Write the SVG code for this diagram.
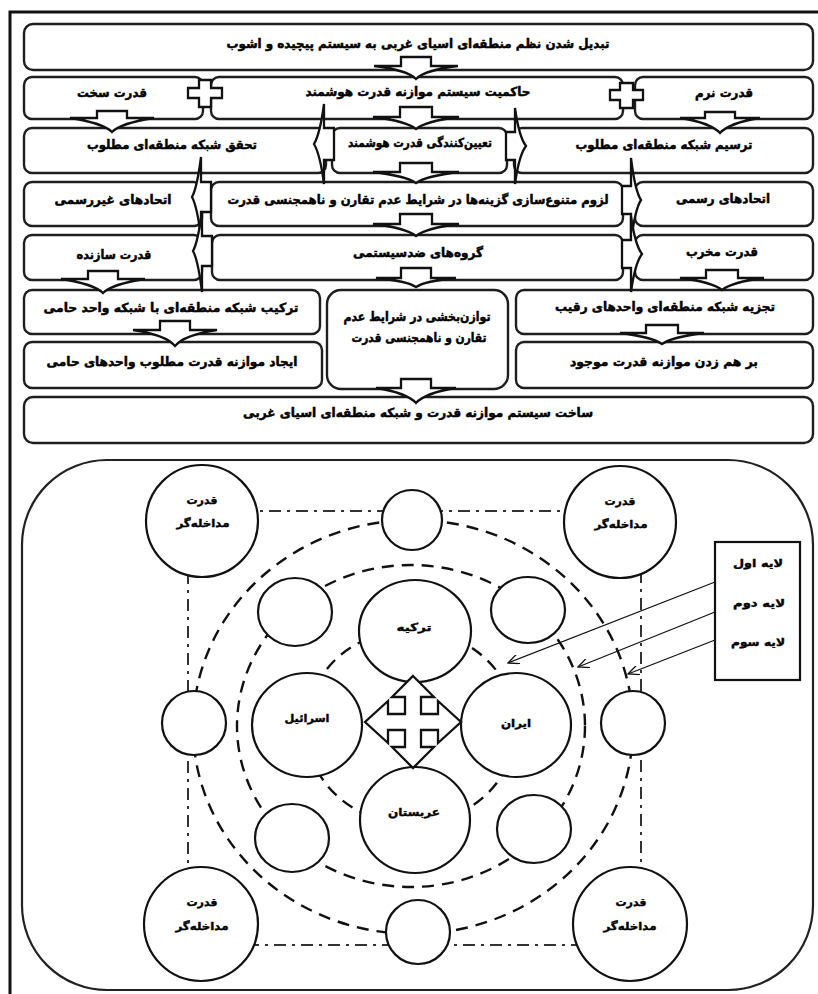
<svg xmlns="http://www.w3.org/2000/svg" width="818" height="994" viewBox="0 0 818 994">
<defs>
<style>
.box{fill:#fff;stroke:#1e1e1e;stroke-width:2.4}
.t{font-family:"DejaVu Sans",sans-serif;font-weight:bold;font-size:12.5px;text-anchor:middle;fill:#000;stroke:#000;stroke-width:0.5px}
.ts{font-family:"DejaVu Sans",sans-serif;font-weight:bold;font-size:11px;text-anchor:middle;fill:#000;stroke:#000;stroke-width:0.4px}
.arr{fill:#fff;stroke:#111;stroke-width:2.3;stroke-linejoin:miter}
.c{fill:#fff;stroke:#111;stroke-width:2.2}
.dash{fill:none;stroke:#111;stroke-width:2.4;stroke-dasharray:12 8}
.dd{fill:none;stroke:#333;stroke-width:2;stroke-dasharray:12 6 3 6}
.ln{fill:none;stroke:#111;stroke-width:1.3}
</style>
<marker id="v" markerWidth="12" markerHeight="10" refX="11" refY="5" orient="auto" markerUnits="userSpaceOnUse"><path d="M0,0 L11,5 L0,10" fill="none" stroke="#111" stroke-width="1.3"/></marker>
</defs>
<rect width="818" height="994" fill="#fff"/>
<path d="M10,994 V12 H818" fill="none" stroke="#111" stroke-width="3"/>

<g id="n1"><rect class="box" x="24" y="24" width="789" height="46" rx="9"/><text class="t" x="418" y="48" textLength="383" lengthAdjust="spacingAndGlyphs">تبدیل شدن نظم منطقه&#8204;ای اسیای غربی به سیستم پیچیده و اشوب</text></g>

<g id="n2a"><rect class="box" x="24" y="77" width="179" height="42" rx="8"/><text class="t" x="112" y="97" textLength="70" lengthAdjust="spacingAndGlyphs">قدرت سخت</text></g>
<g id="n2b"><rect class="box" x="211" y="77" width="412" height="42" rx="8"/><text class="t" x="418" y="96" textLength="225" lengthAdjust="spacingAndGlyphs">حاکمیت سیستم موازنه قدرت هوشمند</text></g>
<g id="n2c"><rect class="box" x="635" y="77" width="178" height="42" rx="8"/><text class="t" x="724" y="97" textLength="58" lengthAdjust="spacingAndGlyphs">قدرت نرم</text></g>

<g id="n3a"><rect class="box" x="24" y="128" width="302" height="45" rx="8"/><text class="t" x="172" y="149" textLength="170" lengthAdjust="spacingAndGlyphs">تحقق شبکه منطقه&#8204;ای مطلوب</text></g>
<g id="n3c"><rect class="box" x="514" y="128" width="299" height="45" rx="8"/><text class="t" x="664" y="149" textLength="177" lengthAdjust="spacingAndGlyphs">ترسیم شبکه منطقه&#8204;ای مطلوب</text></g>
<g id="n3b"><rect class="box" x="332" y="128" width="175" height="45" rx="8"/><text class="t" x="420" y="147" textLength="144" lengthAdjust="spacingAndGlyphs">تعیین&#8204;کنندگی قدرت هوشمند</text></g>

<g id="n4a"><rect class="box" x="24" y="182" width="178" height="44" rx="8"/><text class="t" x="113" y="204" textLength="117" lengthAdjust="spacingAndGlyphs">اتحادهای غیررسمی</text></g>
<g id="n4b"><rect class="box" x="211" y="182" width="412" height="44" rx="8"/><text class="t" x="418" y="204" textLength="381" lengthAdjust="spacingAndGlyphs">لزوم متنوع&#8204;سازی گزینه&#8204;ها در شرایط عدم تقارن و ناهمجنسی قدرت</text></g>
<g id="n4c"><rect class="box" x="635" y="182" width="178" height="44" rx="8"/><text class="t" x="723" y="203" textLength="94" lengthAdjust="spacingAndGlyphs">اتحادهای رسمی</text></g>

<g id="n5a"><rect class="box" x="24" y="235" width="178" height="45" rx="8"/><text class="t" x="114" y="259" textLength="75" lengthAdjust="spacingAndGlyphs">قدرت سازنده</text></g>
<g id="n5b"><rect class="box" x="212" y="235" width="411" height="45" rx="8"/><text class="t" x="418" y="257" textLength="130" lengthAdjust="spacingAndGlyphs">گروه&#8204;های ضدسیستمی</text></g>
<g id="n5c"><rect class="box" x="635" y="235" width="178" height="45" rx="8"/><text class="t" x="722" y="256" textLength="72" lengthAdjust="spacingAndGlyphs">قدرت مخرب</text></g>

<g id="n6a"><rect class="box" x="24" y="290" width="296" height="44" rx="8"/><text class="t" x="171" y="312" textLength="255" lengthAdjust="spacingAndGlyphs">ترکیب شبکه منطقه&#8204;ای با شبکه واحد حامی</text></g>
<g id="n6b"><rect class="box" x="327" y="290" width="181" height="99" rx="14"/><text class="t" x="417" y="321" textLength="147" lengthAdjust="spacingAndGlyphs">توازن&#8204;بخشی در شرایط عدم</text><text class="t" x="419" y="342" textLength="135" lengthAdjust="spacingAndGlyphs">تقارن و ناهمجنسی قدرت</text></g>
<g id="n6c"><rect class="box" x="516" y="290" width="297" height="44" rx="8"/><text class="t" x="665" y="311" textLength="220" lengthAdjust="spacingAndGlyphs">تجزیه شبکه منطقه&#8204;ای واحدهای رقیب</text></g>

<g id="n7a"><rect class="box" x="24" y="342" width="298" height="46" rx="8"/><text class="t" x="172" y="366" textLength="251" lengthAdjust="spacingAndGlyphs">ایجاد موازنه قدرت مطلوب واحدهای حامی</text></g>
<g id="n7c"><rect class="box" x="516" y="342" width="297" height="46" rx="8"/><text class="t" x="664" y="366" textLength="188" lengthAdjust="spacingAndGlyphs">بر هم زدن موازنه قدرت موجود</text></g>

<g id="n8"><rect class="box" x="24" y="397" width="789" height="46" rx="9"/><text class="t" x="418" y="417" textLength="350" lengthAdjust="spacingAndGlyphs">ساخت سیستم موازنه قدرت و شبکه منطقه&#8204;ای اسیای غربی</text></g>

<g id="connectors">
<path class="arr" d="M401,57 H431 V66 H458 Q425,70 416,79 Q407,70 374,66 H401 Z"/>
<path class="arr" d="M97,111 H127 V118 H154 Q121,123 112,132 Q103,123 70,118 H97 Z"/>
<path class="arr" d="M400,107 H432 V117 H459 Q426,121 416,129 Q406,121 373,117 H400 Z"/>
<path class="arr" d="M705,112 H735 V118 H760 Q729,123 720,133 Q711,123 680,118 H705 Z"/>
<path class="arr" d="M400,163 H432 V172 H459 Q426,176 416,183 Q406,176 373,172 H400 Z"/>
<path class="arr" d="M400,214 H432 V224 H459 Q426,228 416,236 Q406,228 373,224 H400 Z"/>
<path class="arr" d="M401,268 H431 V278 H456 Q425,281 416,287 Q407,281 376,278 H401 Z"/>
<path class="arr" d="M401,379 H431 V388 H456 Q425,393 416,403 Q407,393 376,388 H401 Z"/>
<path class="arr" d="M88,271 H118 V279 H145 Q112,284 103,293 Q94,284 61,279 H88 Z"/>
<path class="arr" d="M160,321 H190 V330 H217 Q184,335 175,346 Q166,335 133,330 H160 Z"/>
<path class="arr" d="M706,270 H738 V278 H764 Q732,282 722,290 Q712,282 680,278 H706 Z"/>
<path class="arr" d="M646,325 H678 V333 H704 Q672,337 662,344 Q652,337 620,333 H646 Z"/>
<path class="arr" d="M334,128 V160 H324 V184 Q320,154 314,144 Q320,134 324,104 V128 Z"/>
<path class="arr" d="M506,132 V160 H515 V184 Q519,155 526,146 Q519,137 515,108 V132 Z"/>
<path class="arr" d="M211,182 V212 H201 V237 Q197,206 192,197 Q197,188 201,157 V182 Z"/>
<path class="arr" d="M212,236 V266 H202 V292 Q198,260 193,251 Q198,242 202,211 V236 Z"/>
<path class="arr" d="M622,186 V214 H631 V242 Q635,209 641,200 Q635,191 631,158 V186 Z"/>
<path class="arr" d="M622,240 V268 H631 V292 Q635,263 642,254 Q635,245 631,216 V240 Z"/>
<path class="arr" d="M199,80 H211 V88 H222 V98 H211 V107 H199 V98 H188 V88 H199 Z"/>
<path class="arr" d="M620,83 H633 V90 H643 V100 H633 V108 H620 V100 H610 V90 H620 Z"/>
</g>

<rect x="22" y="460" width="791" height="530" rx="85" fill="none" stroke="#222" stroke-width="2.2"/>

<g id="layers">
<rect class="dd" x="188" y="511" width="453" height="434"/>
<ellipse class="dash" cx="413" cy="727" rx="220" ry="207"/>
<ellipse class="dash" cx="411" cy="726" rx="174" ry="161"/>
<ellipse class="dash" cx="411" cy="727" rx="105" ry="97"/>
</g>

<g id="c-tl"><circle class="c" cx="202" cy="521" r="56"/><text class="ts" x="202" y="504" textLength="31" lengthAdjust="spacingAndGlyphs">قدرت</text><text class="ts" x="203" y="527" textLength="53" lengthAdjust="spacingAndGlyphs">مداخله&#8204;گر</text></g>
<g id="c-tr"><circle class="c" cx="620" cy="522" r="56"/><text class="ts" x="620" y="505" textLength="31" lengthAdjust="spacingAndGlyphs">قدرت</text><text class="ts" x="621" y="528" textLength="53" lengthAdjust="spacingAndGlyphs">مداخله&#8204;گر</text></g>
<g id="c-bl"><circle class="c" cx="201" cy="924" r="57"/><text class="ts" x="202" y="906" textLength="31" lengthAdjust="spacingAndGlyphs">قدرت</text><text class="ts" x="202" y="930" textLength="53" lengthAdjust="spacingAndGlyphs">مداخله&#8204;گر</text></g>
<g id="c-br"><circle class="c" cx="630" cy="924" r="57"/><text class="ts" x="631" y="906" textLength="31" lengthAdjust="spacingAndGlyphs">قدرت</text><text class="ts" x="630" y="930" textLength="53" lengthAdjust="spacingAndGlyphs">مداخله&#8204;گر</text></g>

<g id="s-top"><circle class="c" cx="412" cy="520" r="30"/></g>
<g id="s-left"><circle class="c" cx="194" cy="723" r="32"/></g>
<g id="s-right"><circle class="c" cx="633" cy="723" r="32"/></g>
<g id="s-bottom"><circle class="c" cx="418" cy="932" r="32"/></g>

<g id="m-tl"><ellipse class="c" cx="295" cy="612" rx="37" ry="34"/></g>
<g id="m-tr"><ellipse class="c" cx="528" cy="610" rx="37" ry="33"/></g>
<g id="m-bl"><ellipse class="c" cx="292" cy="838" rx="37" ry="34"/></g>
<g id="m-br"><ellipse class="c" cx="534" cy="829" rx="37" ry="34"/></g>

<g id="turkey"><ellipse class="c" cx="415" cy="631" rx="56" ry="51"/><text class="ts" x="414" y="631" textLength="35" lengthAdjust="spacingAndGlyphs">ترکیه</text></g>
<g id="israel"><ellipse class="c" cx="307" cy="725" rx="55" ry="52"/><text class="ts" x="307" y="722" textLength="45" lengthAdjust="spacingAndGlyphs">اسرائیل</text></g>
<g id="iran"><ellipse class="c" cx="516" cy="725" rx="55" ry="52"/><text class="ts" x="516" y="727" textLength="30" lengthAdjust="spacingAndGlyphs">ایران</text></g>
<g id="saudi"><ellipse class="c" cx="415" cy="820" rx="55" ry="53"/><text class="ts" x="414" y="816" textLength="52" lengthAdjust="spacingAndGlyphs">عربستان</text></g>

<g id="quad-arrow"><path class="arr" d="M413,676 L434,697 L421,697 L421,714 L438,714 L438,701 L461,722 L438,743 L438,730 L421,730 L421,747 L434,747 L413,768 L392,747 L405,747 L405,730 L388,730 L388,743 L365,722 L388,701 L388,714 L405,714 L405,697 L392,697 Z"/></g>

<g id="legend"><rect x="715" y="542" width="85" height="138" fill="#fff" stroke="#111" stroke-width="2.2"/><text class="ts" x="758" y="567" textLength="50" lengthAdjust="spacingAndGlyphs">لایه اول</text><text class="ts" x="759" y="607" textLength="52" lengthAdjust="spacingAndGlyphs">لایه دوم</text><text class="ts" x="758" y="646" textLength="54" lengthAdjust="spacingAndGlyphs">لایه سوم</text></g>

<g id="legend-arrows">
<line class="ln" x1="715" y1="582" x2="508" y2="663" marker-end="url(#v)"/>
<line class="ln" x1="715" y1="612" x2="578" y2="667" marker-end="url(#v)"/>
<line class="ln" x1="715" y1="640" x2="628" y2="674" marker-end="url(#v)"/>
</g>
</svg>
